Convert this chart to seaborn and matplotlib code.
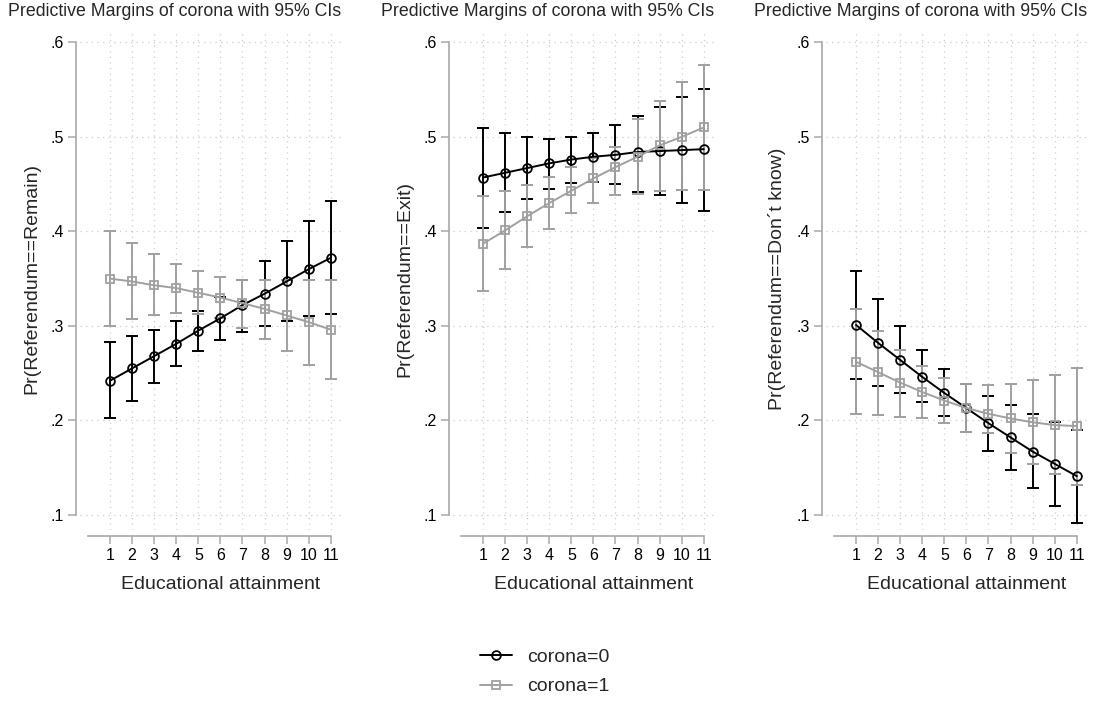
import matplotlib
matplotlib.use("Agg")
import matplotlib.pyplot as plt
from matplotlib.lines import Line2D
import numpy as np
import pandas as pd
import seaborn as sns

# educational attainment levels
edu = list(range(1, 12))

# Pr(Referendum==Remain)
remain_c0 = [0.242, 0.255, 0.268, 0.281, 0.295, 0.308, 0.322, 0.334, 0.347, 0.360, 0.372]
remain_c0_lo = [0.202, 0.221, 0.240, 0.258, 0.273, 0.285, 0.294, 0.300, 0.305, 0.310, 0.313]
remain_c0_hi = [0.283, 0.289, 0.296, 0.305, 0.316, 0.331, 0.349, 0.369, 0.390, 0.411, 0.432]
remain_c1 = [0.350, 0.347, 0.343, 0.340, 0.335, 0.330, 0.324, 0.318, 0.311, 0.304, 0.296]
remain_c1_lo = [0.300, 0.307, 0.311, 0.314, 0.313, 0.308, 0.298, 0.286, 0.273, 0.259, 0.244]
remain_c1_hi = [0.400, 0.388, 0.376, 0.366, 0.358, 0.352, 0.349, 0.349, 0.349, 0.349, 0.349]

# Pr(Referendum==Exit)
exit_c0 = [0.457, 0.462, 0.467, 0.472, 0.476, 0.479, 0.481, 0.484, 0.485, 0.486, 0.487]
exit_c0_lo = [0.404, 0.420, 0.434, 0.445, 0.451, 0.452, 0.450, 0.442, 0.438, 0.430, 0.422]
exit_c0_hi = [0.509, 0.504, 0.500, 0.498, 0.500, 0.504, 0.513, 0.522, 0.532, 0.542, 0.551]
exit_c1 = [0.387, 0.401, 0.416, 0.430, 0.443, 0.456, 0.468, 0.479, 0.491, 0.500, 0.510]
exit_c1_lo = [0.337, 0.360, 0.383, 0.403, 0.419, 0.430, 0.438, 0.440, 0.443, 0.444, 0.444]
exit_c1_hi = [0.437, 0.443, 0.449, 0.458, 0.468, 0.478, 0.489, 0.519, 0.538, 0.558, 0.576]

# Pr(Referendum==Don't know)
dk_c0 = [0.301, 0.282, 0.264, 0.246, 0.229, 0.213, 0.197, 0.182, 0.167, 0.154, 0.141]
dk_c0_lo = [0.244, 0.236, 0.229, 0.219, 0.205, 0.188, 0.168, 0.147, 0.128, 0.109, 0.091]
dk_c0_hi = [0.358, 0.328, 0.300, 0.275, 0.254, 0.238, 0.226, 0.216, 0.207, 0.198, 0.190]
dk_c1 = [0.262, 0.251, 0.240, 0.230, 0.221, 0.213, 0.207, 0.202, 0.198, 0.195, 0.194]
dk_c1_lo = [0.207, 0.206, 0.204, 0.202, 0.197, 0.188, 0.187, 0.166, 0.154, 0.143, 0.132]
dk_c1_hi = [0.318, 0.295, 0.275, 0.258, 0.245, 0.238, 0.237, 0.239, 0.243, 0.248, 0.255]

ylabels = ["Pr(Referendum==Remain)", "Pr(Referendum==Exit)", "Pr(Referendum==Don\u00b4t know)"]
title = "Predictive Margins of corona with 95% CIs"

panels = [
    (remain_c0, remain_c0_lo, remain_c0_hi, remain_c1, remain_c1_lo, remain_c1_hi),
    (exit_c0, exit_c0_lo, exit_c0_hi, exit_c1, exit_c1_lo, exit_c1_hi),
    (dk_c0, dk_c0_lo, dk_c0_hi, dk_c1, dk_c1_lo, dk_c1_hi),
]

sns.set_theme(style="white")
plt.rcParams["font.family"] = ["Liberation Sans", "DejaVu Sans"]

BLACK = "#000000"
GRAY = "#a0a0a0"
AXCOL = "#a8a8a8"

fig = plt.figure(figsize=(10.99, 7.02), dpi=100)
W, H = 1099, 702
lefts = [80, 453, 826]

for i, (c0, c0lo, c0hi, c1, c1lo, c1hi) in enumerate(panels):
    ax = fig.add_axes([lefts[i] / W, (H - 530) / H, 260.7 / W, 498 / H])

    df = pd.DataFrame({
        "edu": edu * 2,
        "margin": c0 + c1,
        "lo": c0lo + c1lo,
        "hi": c0hi + c1hi,
        "corona": ["corona=0"] * 11 + ["corona=1"] * 11,
    })

    # confidence intervals first
    for grp, col in [("corona=0", BLACK), ("corona=1", GRAY)]:
        d = df[df.corona == grp]
        ax.errorbar(d.edu, d.margin, yerr=[d.margin - d.lo, d.hi - d.margin],
                    fmt="none", ecolor=col, elinewidth=1.4, capsize=4,
                    capthick=1.4, zorder=2)

    for grp, col, mk in [("corona=0", BLACK, "o"), ("corona=1", GRAY, "s")]:
        d = df[df.corona == grp]
        sns.lineplot(data=d, x="edu", y="margin", ax=ax, color=col,
                     marker=mk, markersize=6.3, mfc="none", mec=col, mew=1.3,
                     linewidth=1.4, legend=False, zorder=3)

    ax.set_xlim(-0.36, 11.45)
    ax.set_ylim(0.084, 0.611)
    ax.set_xticks(edu)
    ax.set_yticks([0.1, 0.2, 0.3, 0.4, 0.5, 0.6])
    ax.set_yticklabels([".1", ".2", ".3", ".4", ".5", ".6"])
    ax.grid(True, color="#cccccc", linestyle=(0, (1, 3.5)), linewidth=0.9)
    ax.set_axisbelow(True)

    for s in ["top", "right"]:
        ax.spines[s].set_visible(False)
    ax.spines["left"].set_position(("outward", 4 * 0.72))
    ax.spines["bottom"].set_position(("outward", 6 * 0.72))
    ax.spines["left"].set_bounds(0.1, 0.6)
    ax.spines["bottom"].set_bounds(0, 11)
    for s in ["left", "bottom"]:
        ax.spines[s].set_color(AXCOL)
        ax.spines[s].set_linewidth(1.2)
    ax.tick_params(axis="both", which="major", direction="out", length=5.5,
                   width=1.1, color=AXCOL, labelsize=11.5, labelcolor="black",
                   left=True, bottom=True, pad=3)

    ax.set_xlabel("Educational attainment", fontsize=14)
    ax.set_ylabel(ylabels[i], fontsize=14)
    ax.xaxis.set_label_coords(0.5385, -0.093)
    ax.yaxis.set_label_coords(-0.152, 0.505)

    # title centred over the whole panel including the y label
    fig.text((lefts[i] + 95) / W, 1 - 12 / H, title, ha="center", va="center",
             fontsize=12.8)

handles = [
    Line2D([], [], color=BLACK, marker="o", mfc="none", mec=BLACK, mew=1.3,
           markersize=6.3, linewidth=1.4),
    Line2D([], [], color=GRAY, marker="s", mfc="none", mec=GRAY, mew=1.3,
           markersize=6.3, linewidth=1.4),
]
fig.legend(handles, ["corona=0", "corona=1"], loc="center",
           bbox_to_anchor=(545 / W, 1 - 672 / H), frameon=False, fontsize=14,
           handlelength=1.6, handletextpad=0.8, labelspacing=0.6)

fig.savefig("out.png", dpi=100)
